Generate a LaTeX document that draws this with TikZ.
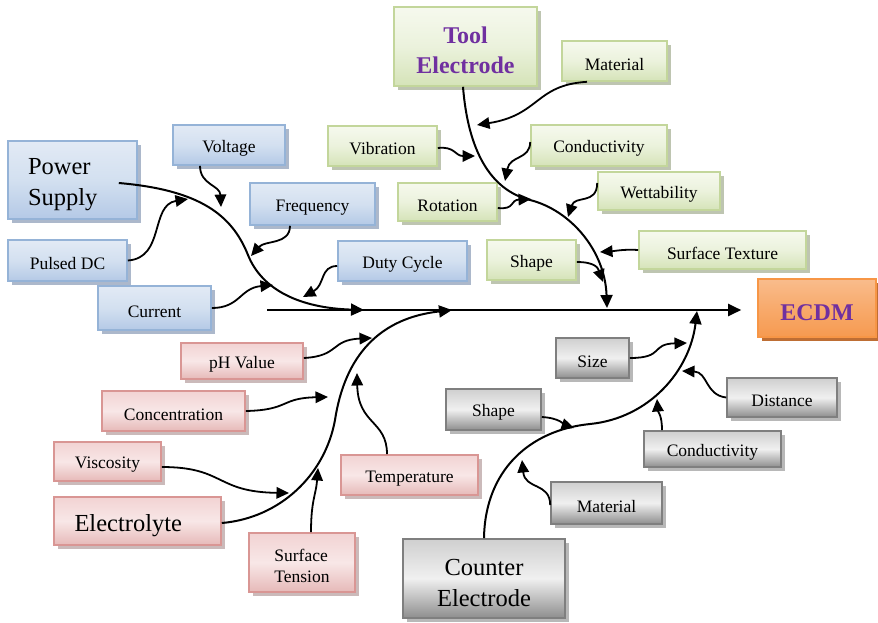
\documentclass[tikz,border=0pt]{standalone}
\usepackage{fontspec}
\setmainfont{Liberation Serif}
\usetikzlibrary{arrows.meta,shadows}
\definecolor{bB}{HTML}{95B3D7}
\definecolor{bT}{HTML}{E2EAF5}
\definecolor{bM}{HTML}{D3E0F0}
\definecolor{bL}{HTML}{B4C9E6}
\definecolor{bS}{HTML}{8A9BB5}
\definecolor{gB}{HTML}{C3D69B}
\definecolor{gT}{HTML}{F6F9EE}
\definecolor{gM}{HTML}{EBF2DC}
\definecolor{gL}{HTML}{D5E3B8}
\definecolor{gS}{HTML}{A3AD90}
\definecolor{rB}{HTML}{D99694}
\definecolor{rT}{HTML}{F2D3D3}
\definecolor{rM}{HTML}{F8E7E7}
\definecolor{rL}{HTML}{E6B9B8}
\definecolor{rS}{HTML}{B59D9D}
\definecolor{kB}{HTML}{7F7F7F}
\definecolor{kT}{HTML}{CFCFCF}
\definecolor{kM}{HTML}{F0F0F0}
\definecolor{kL}{HTML}{8E8E8E}
\definecolor{kS}{HTML}{9A9A9A}
\definecolor{oB}{HTML}{F79646}
\definecolor{oT}{HTML}{F9BC8C}
\definecolor{oM}{HTML}{F8AA6C}
\definecolor{oL}{HTML}{F69A50}
\definecolor{oS}{HTML}{B85F1E}
\definecolor{purp}{HTML}{7030A0}
\newcommand{\lowr}{\rule{0pt}{1.04em}}
\tikzset{
  box/.style={rectangle, draw, line width=1.6pt, inner sep=0pt, align=center,
    font=\fontsize{17.5}{21}\selectfont, text=black},
  bluebox/.style={box, draw=bB, top color=bT, bottom color=bL, middle color=bM,
    drop shadow={shadow xshift=3.5pt, shadow yshift=-3.5pt, fill=bS, opacity=0.7}},
  greenbox/.style={box, draw=gB, top color=gT, bottom color=gL, middle color=gM,
    drop shadow={shadow xshift=3.5pt, shadow yshift=-3.5pt, fill=gS, opacity=0.7}},
  redbox/.style={box, draw=rB, top color=rT, bottom color=rL, middle color=rM,
    drop shadow={shadow xshift=3.5pt, shadow yshift=-3.5pt, fill=rS, opacity=0.7}},
  graybox/.style={box, draw=kB, top color=kT, bottom color=kL, middle color=kM,
    drop shadow={shadow xshift=3.5pt, shadow yshift=-3.5pt, fill=kS, opacity=0.7}},
  orangebox/.style={box, draw=oB, top color=oT, bottom color=oL, middle color=oM,
    drop shadow={shadow xshift=4pt, shadow yshift=-4pt, fill=oS, opacity=0.9}},
  bigtext/.style={font=\fontsize{24.5}{30.5}\selectfont},
  headtext/.style={font=\fontsize{24}{30}\selectfont\bfseries, text=purp},
  conn/.style={line width=1.8pt, -{Triangle[length=12.5pt,width=11.5pt]}},
  mainline/.style={line width=2pt, -{Triangle[length=13pt,width=12pt]}},
}
\begin{document}
\begin{tikzpicture}[x=1pt,y=-1pt]
\useasboundingbox (0,0) rectangle (878,622);
\fill[white] (0,0) rectangle (878,622);

% ---- blue (Power Supply)
\node[bluebox, bigtext, minimum width=129, minimum height=78, text width=89, inner xsep=20pt, align=left] (ps) at (72.5,180) {\lowr Power\\Supply};
\node[bluebox, minimum width=112, minimum height=40] (volt) at (229,145) {\lowr Voltage};
\node[bluebox, minimum width=125, minimum height=42] (freq) at (312.5,204) {\lowr Frequency};
\node[bluebox, minimum width=119, minimum height=41] (pdc) at (67.5,260.5) {\lowr Pulsed DC};
\node[bluebox, minimum width=113, minimum height=44] (cur) at (154.5,308) {\lowr Current};
\node[bluebox, minimum width=129, minimum height=40] (duty) at (402.5,261) {\lowr Duty Cycle};

% ---- green (Tool Electrode)
\node[greenbox, headtext, minimum width=143, minimum height=79] (tool) at (465.5,46.5) {\lowr Tool\\Electrode};
\node[greenbox, minimum width=105, minimum height=40] (tmat) at (614.5,61) {\lowr Material};
\node[greenbox, minimum width=109, minimum height=40] (vib) at (382.5,146) {\lowr Vibration};
\node[greenbox, minimum width=136, minimum height=41] (tcond) at (599,145.5) {\lowr Conductivity};
\node[greenbox, minimum width=99, minimum height=38] (rot) at (447.5,202) {\lowr Rotation};
\node[greenbox, minimum width=122, minimum height=38] (wet) at (659,191) {\lowr Wettability};
\node[greenbox, minimum width=89, minimum height=40] (tshape) at (531.5,260) {\lowr Shape};
\node[greenbox, minimum width=167, minimum height=38] (stex) at (722.5,250) {\lowr Surface Texture};

% ---- ECDM
\node[orangebox, headtext, minimum width=118, minimum height=58] (ecdm) at (817,308) {\lowr ECDM};

% ---- red (Electrolyte)
\node[redbox, bigtext, minimum width=167, minimum height=48, text width=126, inner xsep=20.5pt, align=left] (elec) at (137.5,521) {\lowr Electrolyte};
\node[redbox, minimum width=122, minimum height=36] (ph) at (242,361) {\lowr pH Value};
\node[redbox, minimum width=143, minimum height=40] (conc) at (173.5,411) {\lowr Concentration};
\node[redbox, minimum width=107, minimum height=39] (visc) at (107.5,461.5) {\lowr Viscosity};
\node[redbox, minimum width=137, minimum height=40] (temp) at (409.5,475) {\lowr Temperature};
\node[redbox, minimum width=106, minimum height=59, align=left] (stens) at (302,562.5) {\lowr Surface\\Tension};

% ---- gray (Counter Electrode)
\node[graybox, bigtext, minimum width=162, minimum height=79] (ce) at (484,578.5) {\lowr Counter\\Electrode};
\node[graybox, minimum width=73, minimum height=40] (size) at (592.5,358) {\lowr Size};
\node[graybox, minimum width=95, minimum height=41] (cshape) at (493.5,409.5) {\lowr Shape};
\node[graybox, minimum width=110, minimum height=39] (dist) at (782,397.5) {\lowr Distance};
\node[graybox, minimum width=137, minimum height=36] (ccond) at (712.5,449) {\lowr Conductivity};
\node[graybox, minimum width=111, minimum height=42] (cmat) at (606.5,503) {\lowr Material};

% ---- spine and branch ends
\coordinate (spine0) at (267,310);
\coordinate (jps) at (364,310);
\coordinate (jel) at (452,310);
\coordinate (jtool) at (607,308);
\coordinate (jce) at (697,311);
\draw[mainline] (spine0) -- ([xshift=-16pt,yshift=-2pt]ecdm.west);

% main branches
\draw[mainline] ([xshift=-19pt,yshift=-3pt]ps.east) .. controls (200,190) and (232,215) .. (248,255)
   .. controls (262,290) and (300,308) .. (jps);
\draw[mainline] ([yshift=-2pt]elec.east) .. controls (280,518) and (325,475) .. (335,420)
   .. controls (345,355) and (380,318) .. (jel);
\draw[mainline] ([xshift=-2.5pt]tool.south) .. controls (468,150) and (490,190) .. (530,200)
   .. controls (570,210) and (605,250) .. (jtool);
\draw[mainline] (ce.north) .. controls (485,470) and (530,430) .. (590,424)
   .. controls (650,418) and (690,370) .. (jce);

% arrow targets
\coordinate (avolt) at (221,207);
\coordinate (apdc) at (188,199);
\coordinate (afreq) at (251,256);
\coordinate (acur) at (273,285);
\coordinate (aduty) at (303,297);
\coordinate (atmat) at (477,125);
\coordinate (avib) at (475,156);
\coordinate (atcond) at (505,181);
\coordinate (arot) at (531,199);
\coordinate (awet) at (568,217);
\coordinate (astex) at (600,252);
\coordinate (atshape) at (603,282);
\coordinate (aph) at (372,338);
\coordinate (aconc) at (328,397);
\coordinate (avisc) at (289,493);
\coordinate (atemp) at (357,373);
\coordinate (astens) at (318,468);
\coordinate (asize) at (687,343);
\coordinate (acshape) at (574,428);
\coordinate (adist) at (682,371);
\coordinate (accond) at (657,399);
\coordinate (acmat) at (522,460);

% power supply causes
\draw[conn] ([xshift=-29pt]volt.south) .. controls (200,185) and (220,185) .. (avolt);
\draw[conn] (pdc.east) .. controls (165,258) and (150,205) .. (apdc);
\draw[conn] ([xshift=-22.5pt]freq.south) .. controls (290,245) and (265,240) .. (afreq);
\draw[conn] (cur.east) .. controls (240,308) and (240,288) .. (acur);
\draw[conn] ([yshift=-5pt]duty.west) .. controls (320,266) and (325,285) .. (aduty);

% tool electrode causes
\draw[conn] ([xshift=-27.5pt]tmat.south) .. controls (535,85) and (540,115) .. (atmat);
\draw[conn] ([yshift=-2pt]vib.east) .. controls (455,146) and (455,156) .. (avib);
\draw[conn] ([yshift=3.5pt]tcond.west) .. controls (530,160) and (510,155) .. (atcond);
\draw[conn] ([yshift=-6pt]rot.east) .. controls (515,210) and (510,200) .. (arot);
\draw[conn] ([yshift=8pt]wet.west) .. controls (597,205) and (575,195) .. (awet);
\draw[conn] (stex.west) .. controls (625,249) and (615,251) .. (astex);
\draw[conn] ([yshift=-2pt]tshape.east) .. controls (595,262) and (598,268) .. (atshape);

% electrolyte causes
\draw[conn] ([yshift=3pt]ph.east) .. controls (340,356) and (330,340) .. (aph);
\draw[conn] (conc.east) .. controls (290,410) and (280,398) .. (aconc);
\draw[conn] ([yshift=-5.5pt]visc.east) .. controls (225,467) and (215,492) .. (avisc);
\draw[conn] ([xshift=-22.5pt]temp.north) .. controls (387,420) and (358,425) .. (atemp);
\draw[conn] ([xshift=9pt]stens.north) .. controls (311,500) and (316,495) .. (astens);

% counter electrode causes
\draw[conn] (size.east) .. controls (665,358) and (650,344) .. (asize);
\draw[conn] ([yshift=-7.5pt]cshape.east) .. controls (560,418) and (565,425) .. (acshape);
\draw[conn] (dist.west) .. controls (705,395) and (708,372) .. (adist);
\draw[conn] ([xshift=-50.5pt]ccond.north) .. controls (662,415) and (658,412) .. (accond);
\draw[conn] ([yshift=-2pt]cmat.west) .. controls (550,482) and (525,490) .. (acmat);
\end{tikzpicture}
\end{document}
